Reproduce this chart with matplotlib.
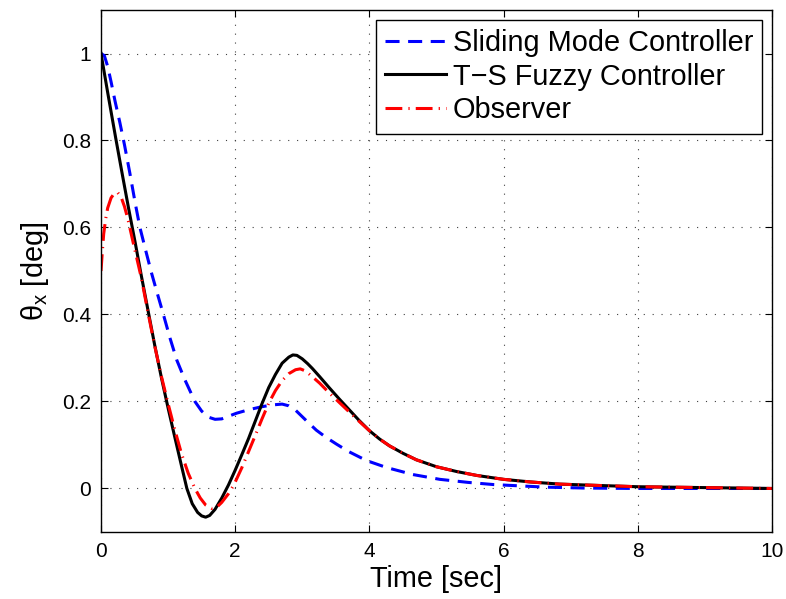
"""
Attitude response theta_x: sliding mode vs. T-S fuzzy controller and observer.
"""

import matplotlib
matplotlib.use("Agg")
import matplotlib.pyplot as plt


# --------- response data (time in sec, angle in deg) --------- #

t_smc = [0.00, 0.05, 0.10, 0.15, 0.21, 0.28, 0.35, 0.43, 0.51, 0.58, 0.67,
         0.75, 0.84, 0.93, 1.03, 1.13, 1.25, 1.40, 1.50, 1.60, 1.70, 1.80,
         1.90, 2.02, 2.20, 2.40, 2.55, 2.70, 2.80, 2.90, 3.00, 3.10, 3.21,
         3.35, 3.51, 3.69, 3.96, 4.26, 4.65, 5.05, 5.47, 5.85, 6.24, 6.64,
         7.20, 8.00, 10.0]
theta_smc = [1.000, 0.995, 0.970, 0.935, 0.890, 0.842, 0.790, 0.725, 0.656,
             0.600, 0.545, 0.497, 0.448, 0.400, 0.345, 0.295, 0.250, 0.200,
             0.178, 0.164, 0.159, 0.160, 0.166, 0.173, 0.181, 0.188, 0.192,
             0.194, 0.190, 0.180, 0.165, 0.150, 0.134, 0.118, 0.102, 0.085,
             0.064, 0.048, 0.032, 0.021, 0.014, 0.009, 0.006, 0.003, 0.001,
             0.000, 0.000]

t_fuzzy = [0.00, 0.05, 0.10, 0.22, 0.32, 0.41, 0.51, 0.60, 0.70, 0.80, 0.90,
           1.00, 1.10, 1.20, 1.28, 1.36, 1.44, 1.50, 1.56, 1.62, 1.70, 1.80,
           1.90, 2.00, 2.10, 2.20, 2.30, 2.40, 2.50, 2.60, 2.70, 2.80, 2.86,
           2.92, 3.00, 3.08, 3.15, 3.26, 3.40, 3.55, 3.70, 3.85, 4.00, 4.15,
           4.30, 4.50, 4.70, 5.00, 5.30, 5.60, 6.00, 6.40, 6.84, 7.40, 8.00,
           9.00, 10.0]
theta_fuzzy = [1.000, 0.955, 0.910, 0.805, 0.720, 0.645, 0.565, 0.490, 0.410,
               0.330, 0.255, 0.185, 0.118, 0.052, 0.000, -0.035, -0.055,
               -0.063, -0.066, -0.062, -0.048, -0.022, 0.008, 0.042, 0.078,
               0.115, 0.155, 0.195, 0.232, 0.262, 0.288, 0.302, 0.307, 0.306,
               0.298, 0.287, 0.276, 0.257, 0.232, 0.206, 0.181, 0.156, 0.133,
               0.114, 0.098, 0.081, 0.066, 0.050, 0.039, 0.030, 0.021, 0.015,
               0.010, 0.007, 0.004, 0.002, 0.000]

t_obs = [0.00, 0.02, 0.04, 0.07, 0.10, 0.15, 0.20, 0.25, 0.30, 0.35, 0.40,
         0.48, 0.60, 0.70, 0.80, 0.90, 1.00, 1.10, 1.20, 1.30, 1.40, 1.48,
         1.56, 1.65, 1.72, 1.80, 1.90, 1.98, 2.10, 2.20, 2.30, 2.40, 2.50,
         2.60, 2.70, 2.80, 2.90, 2.97, 3.05, 3.15, 3.26, 3.40, 3.55, 3.70,
         3.85, 4.00, 4.15, 4.30, 4.50, 4.70, 5.00, 5.30, 5.60, 6.00, 6.40,
         6.84, 7.40, 8.00, 9.00, 10.0]
theta_obs = [0.500, 0.545, 0.585, 0.620, 0.645, 0.668, 0.679, 0.680, 0.670,
             0.648, 0.620, 0.565, 0.485, 0.405, 0.328, 0.258, 0.195, 0.135,
             0.080, 0.035, 0.000, -0.022, -0.038, -0.046, -0.044, -0.032,
             -0.012, 0.008, 0.048, 0.085, 0.122, 0.160, 0.196, 0.225, 0.248,
             0.264, 0.273, 0.275, 0.270, 0.257, 0.242, 0.220, 0.198, 0.176,
             0.154, 0.133, 0.114, 0.098, 0.081, 0.066, 0.050, 0.039, 0.030,
             0.021, 0.015, 0.010, 0.007, 0.004, 0.002, 0.000]

x_ticks = [0, 2, 4, 6, 8, 10]
y_ticks = [0, 0.2, 0.4, 0.6, 0.8, 1.0]
y_tick_labels = ["0", "0.2", "0.4", "0.6", "0.8", "1"]


plt.rcParams["font.family"] = ["Liberation Sans", "DejaVu Sans"]
plt.rcParams["mathtext.fontset"] = "custom"
plt.rcParams["mathtext.rm"] = "Liberation Sans"
plt.rcParams["mathtext.it"] = "Liberation Sans"

fig = plt.figure(figsize=(7.86, 5.99), dpi=100)
ax = fig.add_axes([0.1285, 0.1119, 0.8535, 0.8714])

lw = 2.2
ax.plot(t_smc, theta_smc, color="blue", lw=lw, dashes=(4.6, 2.8),
        label="Sliding Mode Controller")
ax.plot(t_fuzzy, theta_fuzzy, color="black", lw=lw,
        label="T\u2212S Fuzzy Controller")
ax.plot(t_obs, theta_obs, color="red", lw=lw, dashes=(5.5, 2.0, 0.4, 2.0),
        label="Observer")

ax.set_xlim(0, 10)
ax.set_ylim(-0.1, 1.1)
ax.set_xticks(x_ticks)
ax.set_yticks(y_ticks)
ax.set_yticklabels(y_tick_labels)

# MATLAB-ish box: inward ticks on every side, dotted grid
ax.tick_params(direction="in", top=True, right=True, length=5, width=0.8,
               labelsize=15, pad=7)
for spine in ax.spines.values():
    spine.set_linewidth(1.0)
ax.grid(True, color="0.25", lw=0.8, dashes=(1, 7))

ax.set_xlabel("Time [sec]", fontsize=20.8, labelpad=3)
ax.set_ylabel(r"$\theta_{x}$ [deg]", fontsize=20.8, labelpad=8)

leg = ax.legend(loc="upper right", fontsize=20.8, handlelength=2.1,
                handletextpad=0.24, labelspacing=0.2, borderpad=0.32,
                borderaxespad=0.33, fancybox=False, framealpha=1)
leg.get_frame().set_edgecolor("black")
leg.get_frame().set_linewidth(1.0)

fig.savefig("out.png", dpi=100)
